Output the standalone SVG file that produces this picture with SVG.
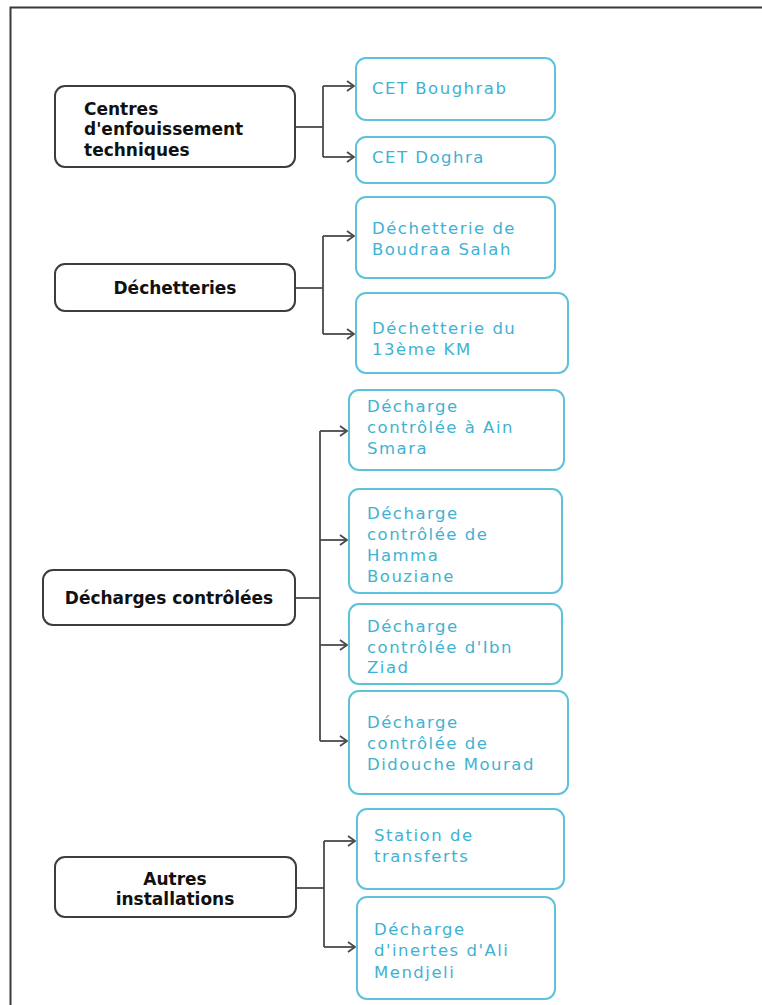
<svg xmlns="http://www.w3.org/2000/svg" width="762" height="1005" viewBox="0 0 762 1005">
<defs>
<style>
.frame{fill:none;stroke:#3a3a3a;stroke-width:2}
.cat{fill:#fff;stroke:#3d3d3d;stroke-width:2}
.item{fill:#fff;stroke:#5cc3da;stroke-width:2}
.ct{font-family:"DejaVu Sans",sans-serif;font-weight:bold;font-size:17px;fill:#111}
.it{font-family:"DejaVu Sans",sans-serif;font-size:16.5px;letter-spacing:1.5px;fill:#3fb2d2}
.conn{fill:none;stroke:#4a4a4a;stroke-width:1.8}
</style>
<marker id="arr" markerWidth="10" markerHeight="12" refX="8" refY="6" orient="auto" markerUnits="userSpaceOnUse">
<path d="M1,1 L8,6 L1,11" fill="none" stroke="#4a4a4a" stroke-width="1.8"/>
</marker>
</defs>
<rect width="762" height="1005" fill="#fff"/>
<path class="frame" d="M10.5,1005 V7.5 H762"/>

<g id="connectors">
<path class="conn" d="M295,127 H323"/>
<path class="conn" d="M323,86 V157"/>
<path class="conn" d="M323,86 H354" marker-end="url(#arr)"/>
<path class="conn" d="M323,157 H354" marker-end="url(#arr)"/>

<path class="conn" d="M295,288 H323"/>
<path class="conn" d="M323,236 V334"/>
<path class="conn" d="M323,236 H354" marker-end="url(#arr)"/>
<path class="conn" d="M323,334 H354" marker-end="url(#arr)"/>

<path class="conn" d="M295,598 H320"/>
<path class="conn" d="M320,431 V741"/>
<path class="conn" d="M320,431 H347" marker-end="url(#arr)"/>
<path class="conn" d="M320,540 H347" marker-end="url(#arr)"/>
<path class="conn" d="M320,645 H347" marker-end="url(#arr)"/>
<path class="conn" d="M320,741 H347" marker-end="url(#arr)"/>

<path class="conn" d="M296,888 H324"/>
<path class="conn" d="M324,841 V947"/>
<path class="conn" d="M324,841 H355" marker-end="url(#arr)"/>
<path class="conn" d="M324,947 H355" marker-end="url(#arr)"/>
</g>

<g id="cat-cet">
<rect class="cat" x="55" y="86" width="240" height="81" rx="10"/>
<text class="ct" x="84" y="115">Centres</text>
<text class="ct" x="84" y="135">d'enfouissement</text>
<text class="ct" x="84" y="156">techniques</text>
</g>
<g id="cat-dechetteries">
<rect class="cat" x="55" y="264" width="240" height="47" rx="10"/>
<text class="ct" x="175" y="294" text-anchor="middle">Déchetteries</text>
</g>
<g id="cat-decharges">
<rect class="cat" x="43" y="570" width="252" height="55" rx="10"/>
<text class="ct" x="169" y="604" text-anchor="middle">Décharges contrôlées</text>
</g>
<g id="cat-autres">
<rect class="cat" x="55" y="857" width="241" height="60" rx="10"/>
<text class="ct" x="175" y="885" text-anchor="middle">Autres</text>
<text class="ct" x="175" y="905" text-anchor="middle">installations</text>
</g>

<g id="item-boughrab">
<rect class="item" x="356" y="58" width="199" height="62" rx="10"/>
<text class="it" x="372" y="94">CET Boughrab</text>
</g>
<g id="item-doghra">
<rect class="item" x="356" y="137" width="199" height="46" rx="10"/>
<text class="it" x="372" y="163">CET Doghra</text>
</g>
<g id="item-boudraa">
<rect class="item" x="356" y="197" width="199" height="81" rx="10"/>
<text class="it" x="372" y="234">Déchetterie de</text>
<text class="it" x="372" y="255">Boudraa Salah</text>
</g>
<g id="item-13km">
<rect class="item" x="356" y="293" width="212" height="80" rx="10"/>
<text class="it" x="372" y="334">Déchetterie du</text>
<text class="it" x="372" y="355">13ème KM</text>
</g>
<g id="item-ainsmara">
<rect class="item" x="349" y="390" width="215" height="80" rx="10"/>
<text class="it" x="367" y="412">Décharge</text>
<text class="it" x="367" y="433">contrôlée à Ain</text>
<text class="it" x="367" y="454">Smara</text>
</g>
<g id="item-hamma">
<rect class="item" x="349" y="489" width="213" height="104" rx="10"/>
<text class="it" x="367" y="519">Décharge</text>
<text class="it" x="367" y="540">contrôlée de</text>
<text class="it" x="367" y="561">Hamma</text>
<text class="it" x="367" y="582">Bouziane</text>
</g>
<g id="item-ibnziad">
<rect class="item" x="349" y="604" width="213" height="80" rx="10"/>
<text class="it" x="367" y="632">Décharge</text>
<text class="it" x="367" y="653">contrôlée d'Ibn</text>
<text class="it" x="367" y="673">Ziad</text>
</g>
<g id="item-didouche">
<rect class="item" x="349" y="691" width="219" height="103" rx="10"/>
<text class="it" x="367" y="728">Décharge</text>
<text class="it" x="367" y="749">contrôlée de</text>
<text class="it" x="367" y="770">Didouche Mourad</text>
</g>
<g id="item-station">
<rect class="item" x="357" y="809" width="207" height="80" rx="10"/>
<text class="it" x="374" y="841">Station de</text>
<text class="it" x="374" y="862">transferts</text>
</g>
<g id="item-inertes">
<rect class="item" x="357" y="897" width="198" height="102" rx="10"/>
<text class="it" x="374" y="935">Décharge</text>
<text class="it" x="374" y="956">d'inertes d'Ali</text>
<text class="it" x="374" y="978">Mendjeli</text>
</g>
</svg>
